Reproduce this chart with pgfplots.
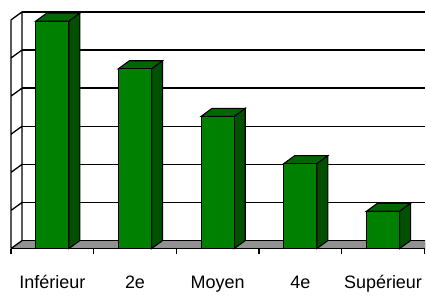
\documentclass[border=0pt]{standalone}
\usepackage{fontspec}
\setmainfont{Liberation Sans}
\usepackage{pgfplots}
\usepackage{pgfplotstable}
\pgfplotsset{compat=1.18}
\definecolor{barfront}{RGB}{0,128,0}
\definecolor{bartop}{RGB}{0,102,0}
\definecolor{barside}{RGB}{0,80,0}
\definecolor{floorgray}{RGB}{145,145,145}
\pgfplotstableread{
x v
0 5.97
1 4.72
2 3.47
3 2.23
4 0.98
}\datatable
\begin{document}
\begin{tikzpicture}
\begin{axis}[
 x=82.8bp, y=38.17bp,
 xmin=-0.6329, xmax=4.512, ymin=0, ymax=6.523,
 axis line style={draw=none},
 ytick=\empty,
 xtick pos=bottom,
 xtick={0,1,2,3,4},
 xticklabels={Inférieur,2e,Moyen,4e,Supérieur},
 major tick length=0pt,
 xticklabel style={font=\fontsize{18bp}{20bp}\selectfont, anchor=base, inner sep=0pt, text depth=2bp, yshift=-40bp},
 extra x ticks={-0.5,0.5,1.5,2.5,3.5,4.5},
 extra x tick labels={},
 extra x tick style={major tick length=5bp, tick align=outside, major tick style={black, line width=1.2bp}},
 clip=false,
 unbounded coords=jump,
]
% floor
\addplot[fill=floorgray, draw=none] coordinates {(-0.5,0) (4.512,0) (4.512,0.21) (-0.367,0.21)} -- cycle;
% back wall gridlines
\addplot[black, line width=1.3bp] coordinates {
(-0.367,0.21) (4.512,0.21) (nan,nan)
(-0.367,1.21) (4.512,1.21) (nan,nan)
(-0.367,2.21) (4.512,2.21) (nan,nan)
(-0.367,3.21) (4.512,3.21) (nan,nan)
(-0.367,4.21) (4.512,4.21) (nan,nan)
(-0.367,5.21) (4.512,5.21) (nan,nan)
(-0.367,6.21) (4.512,6.21)
};
% left wall
\addplot[black, line width=1.3bp] coordinates {
(-0.5,0) (-0.5,6) (nan,nan)
(-0.367,0.21) (-0.367,6.21) (nan,nan)
(-0.5,0) (-0.367,0.21) (nan,nan)
(-0.5,1) (-0.367,1.21) (nan,nan)
(-0.5,2) (-0.367,2.21) (nan,nan)
(-0.5,3) (-0.367,3.21) (nan,nan)
(-0.5,4) (-0.367,4.21) (nan,nan)
(-0.5,5) (-0.367,5.21) (nan,nan)
(-0.5,6) (-0.367,6.21)
};
% front floor line
\addplot[black, line width=1.3bp] coordinates {(-0.5,0) (4.512,0)};
% bars: side faces
\addplot[fill=barside, draw=black, line width=1.1bp] coordinates {(0.2,0)(0.333,0.21)(0.333,6.18)(0.2,5.97)} -- cycle;
\addplot[fill=barside, draw=black, line width=1.1bp] coordinates {(1.2,0)(1.333,0.21)(1.333,4.93)(1.2,4.72)} -- cycle;
\addplot[fill=barside, draw=black, line width=1.1bp] coordinates {(2.2,0)(2.333,0.21)(2.333,3.68)(2.2,3.47)} -- cycle;
\addplot[fill=barside, draw=black, line width=1.1bp] coordinates {(3.2,0)(3.333,0.21)(3.333,2.44)(3.2,2.23)} -- cycle;
\addplot[fill=barside, draw=black, line width=1.1bp] coordinates {(4.2,0)(4.333,0.21)(4.333,1.19)(4.2,0.98)} -- cycle;
% bars: top faces
\addplot[fill=bartop, draw=black, line width=1.1bp] coordinates {(-0.2,5.97)(0.2,5.97)(0.333,6.18)(-0.067,6.18)} -- cycle;
\addplot[fill=bartop, draw=black, line width=1.1bp] coordinates {(0.8,4.72)(1.2,4.72)(1.333,4.93)(0.933,4.93)} -- cycle;
\addplot[fill=bartop, draw=black, line width=1.1bp] coordinates {(1.8,3.47)(2.2,3.47)(2.333,3.68)(1.933,3.68)} -- cycle;
\addplot[fill=bartop, draw=black, line width=1.1bp] coordinates {(2.8,2.23)(3.2,2.23)(3.333,2.44)(2.933,2.44)} -- cycle;
\addplot[fill=bartop, draw=black, line width=1.1bp] coordinates {(3.8,0.98)(4.2,0.98)(4.333,1.19)(3.933,1.19)} -- cycle;
% bars: front faces
\addplot[ybar, bar width=0.4, fill=barfront, draw=black, line width=1.1bp] table[x=x, y=v] {\datatable};
\end{axis}
\end{tikzpicture}
\end{document}
